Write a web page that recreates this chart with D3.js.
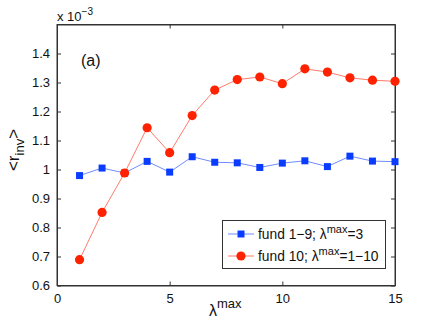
<!DOCTYPE html>
<html>
<head>
<meta charset="utf-8">
<script src="https://cdn.jsdelivr.net/npm/d3@7"></script>
<style>
html,body{margin:0;padding:0;background:#fff;}
svg{display:block;font-family:"Liberation Sans",Arial,Helvetica,sans-serif;}
</style>
</head>
<body>
<svg id="chart" width="436" height="329"></svg>
<script>
const lambdaMax = [1,2,3,4,5,6,7,8,9,10,11,12,13,14,15];
const fund19 = [0.979,1.005,0.988,1.028,0.991,1.044,1.025,1.023,1.007,1.022,1.030,1.010,1.046,1.029,1.027];
const fund10 = [0.689,0.852,0.988,1.144,1.058,1.186,1.274,1.310,1.319,1.296,1.347,1.336,1.316,1.308,1.304];
const xTicks = [0,5,10,15];
const yTicks = [0.6,0.7,0.8,0.9,1.0,1.1,1.2,1.3,1.4];
const yTickLabels = ["0.6","0.7","0.8","0.9","1","1.1","1.2","1.3","1.4"];

const svg = d3.select("#chart");
const m = {left:57, right:395, top:24.5, bottom:285.5};
const x = d3.scaleLinear().domain([0,15]).range([m.left, m.right]);
const y = d3.scaleLinear().domain([0.6,1.5]).range([m.bottom, m.top]);

// box
svg.append("rect").attr("x",m.left).attr("y",m.top)
  .attr("width",m.right-m.left).attr("height",m.bottom-m.top)
  .attr("fill","none").attr("stroke","#333").attr("stroke-width",1);

const tickLen = 4;
const axB = d3.axisBottom(x).tickValues(xTicks).tickSizeInner(-tickLen).tickSizeOuter(0).tickPadding(8);
const gB = svg.append("g").attr("transform",`translate(0,${m.bottom})`).call(axB);
const axT = d3.axisTop(x).tickValues(xTicks).tickSizeInner(-tickLen).tickSizeOuter(0).tickFormat("");
const gT = svg.append("g").attr("transform",`translate(0,${m.top})`).call(axT);
const axL = d3.axisLeft(y).tickValues(yTicks).tickSizeInner(-tickLen).tickSizeOuter(0).tickPadding(7)
  .tickFormat((d,i)=>yTickLabels[i]);
const gL = svg.append("g").attr("transform",`translate(${m.left},0)`).call(axL);
const axR = d3.axisRight(y).tickValues(yTicks).tickSizeInner(-tickLen).tickSizeOuter(0).tickFormat("");
const gR = svg.append("g").attr("transform",`translate(${m.right},0)`).call(axR);
[gB,gT,gL,gR].forEach(g=>{
  g.select(".domain").attr("stroke","#333");
  g.selectAll(".tick line").attr("stroke","#333");
  g.selectAll("text").attr("font-size",13).attr("fill","#111")
    .attr("font-family","Liberation Sans, Arial, sans-serif");
});

// exponent label
const ex = svg.append("text").attr("x",57).attr("y",21).attr("font-size",13).attr("fill","#111");
ex.append("tspan").text("x 10");
ex.append("tspan").attr("dy",-6).attr("font-size",10).text("−3");

// (a)
svg.append("text").attr("x",81).attr("y",66).attr("font-size",16).attr("fill","#111").text("(a)");

// y label
const yl = svg.append("text").attr("transform","translate(19,150) rotate(-90)")
  .attr("text-anchor","middle").attr("font-size",17).attr("fill","#111");
yl.append("tspan").text("<r");
yl.append("tspan").attr("dy",5).attr("font-size",13).text("inv");
yl.append("tspan").attr("dy",-5).text(">");

// x label
const xl = svg.append("text").attr("x",209).attr("y",316).attr("font-size",16).attr("fill","#111");
xl.append("tspan").text("λ");
xl.append("tspan").attr("dy",-8).attr("font-size",13).text("max");

// series
const blueLine = "#6f8cff", blueMark = "#0a3cff";
const redLine = "#ff7a6a", redMark = "#ff2200";
const line = d3.line().x((d,i)=>x(lambdaMax[i])).y(d=>y(d));

svg.append("path").datum(fund19).attr("d",line).attr("fill","none")
  .attr("stroke",blueLine).attr("stroke-width",1);
svg.append("g").selectAll("rect").data(fund19).join("rect")
  .attr("x",(d,i)=>x(lambdaMax[i])-3.5).attr("y",d=>y(d)-3.5)
  .attr("width",7).attr("height",7).attr("fill",blueMark);

svg.append("path").datum(fund10).attr("d",line).attr("fill","none")
  .attr("stroke",redLine).attr("stroke-width",1);
svg.append("g").selectAll("circle").data(fund10).join("circle")
  .attr("cx",(d,i)=>x(lambdaMax[i])).attr("cy",d=>y(d)).attr("r",4.6).attr("fill",redMark);

// legend
const lg = svg.append("g");
lg.append("rect").attr("x",222.5).attr("y",220.5).attr("width",163).attr("height",48)
  .attr("fill","#fff").attr("stroke","#333").attr("stroke-width",1);
const items = [
  {y:234, lc:blueLine, mc:blueMark, shape:"sq", label:["fund 1−9; λ","max","=3"]},
  {y:256, lc:redLine, mc:redMark, shape:"ci", label:["fund 10; λ","max","=1−10"]}
];
items.forEach(it=>{
  lg.append("line").attr("x1",228).attr("x2",254).attr("y1",it.y).attr("y2",it.y)
    .attr("stroke",it.lc).attr("stroke-width",1);
  if(it.shape==="sq") lg.append("rect").attr("x",241-3.5).attr("y",it.y-3.5).attr("width",7).attr("height",7).attr("fill",it.mc);
  else lg.append("circle").attr("cx",241).attr("cy",it.y).attr("r",4.6).attr("fill",it.mc);
  const t = lg.append("text").attr("x",258).attr("y",it.y+5).attr("font-size",13.8).attr("fill","#111");
  t.append("tspan").text(it.label[0]);
  t.append("tspan").attr("dy",-6).attr("font-size",11).text(it.label[1]);
  t.append("tspan").attr("dy",6).text(it.label[2]);
});
</script>
</body>
</html>
